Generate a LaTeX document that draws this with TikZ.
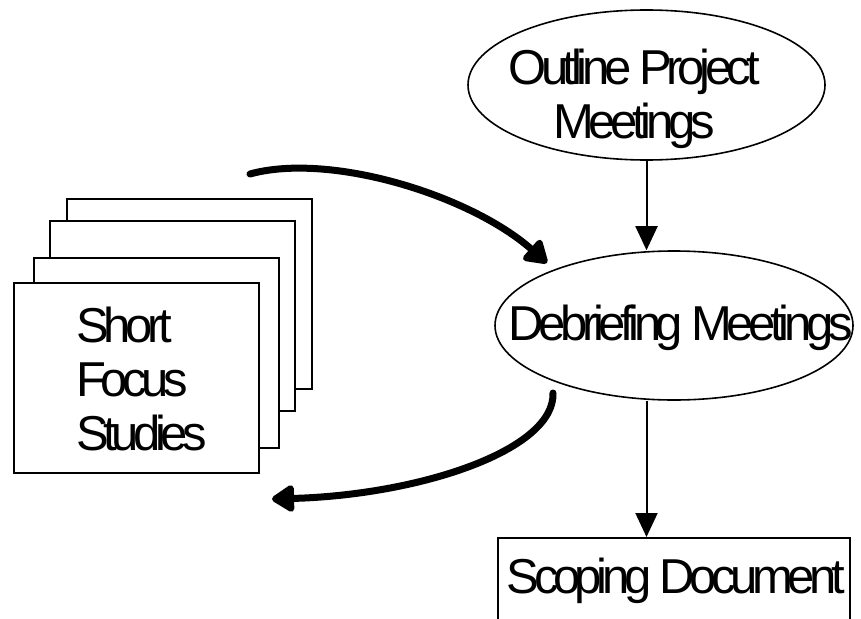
\documentclass[tikz,border=0pt]{standalone}
\usepackage{fontspec}
\setmainfont{Liberation Sans}[LetterSpace=-11]
\usetikzlibrary{arrows.meta,shapes.geometric}
\begin{document}
\begin{tikzpicture}[x=1pt,y=-1pt,
  page/.style={draw, line width=2pt, fill=white, minimum width=245pt, minimum height=190pt, anchor=north west, inner sep=0pt},
  bubble/.style={ellipse, draw, line width=1.6pt, inner sep=0pt},
  docbox/.style={draw, line width=2pt, minimum width=352pt, minimum height=120pt, anchor=north west, inner sep=0pt},
  lbl/.style={font=\fontsize{49}{54}\selectfont, inner sep=0pt},
  thinarrow/.style={line width=2pt, -{Triangle[length=24pt,width=22pt]}},
  thickarrow/.style={line width=7pt, line cap=round, -{Triangle[round,length=25pt,width=30pt]}}
]
\clip (0,0) rectangle (861,618);
% stack of pages
\node[page] (p4) at (66,198) {};
\node[page] (p3) at (49,220) {};
\node[page] (p2) at (33,257) {};
\node[page] (p1) at (13,282) {};
\node[lbl, anchor=base west, align=left] (sfs) at (76,450) {Short\\Focus\\Studies};
% ellipses
\node[bubble, minimum width=357pt, minimum height=150pt] (om) at (646.5,85) {};
\node[lbl, anchor=base, align=center] (omt) at (634,138) {Outline Project\\Meetings};
\node[bubble, minimum width=358pt, minimum height=149pt] (dm) at (674,325.5) {};
\node[lbl, anchor=base] (dmt) at (680.5,340) {Debriefing Meetings};
% scoping document
\node[docbox] (sd) at (497,537) {};
\node[lbl, anchor=base] (sdt) at (676,593) {Scoping Document};
% thin arrows
\draw[thinarrow] (om.south) -- (om.south |- dm.north);
\draw[thinarrow] (dm.south -| om.south) -- (om.south |- sd.north);
% thick curved arrows
\coordinate (a1s) at (250,174);
\coordinate (a1e) at (547,263);
\coordinate (a2s) at (553,393);
\coordinate (a2e) at (272,499);
\draw[thickarrow] (a1s) .. controls (330,152) and (470,195) .. (a1e);
\draw[thickarrow] (a2s) .. controls (555,450) and (420,495) .. (a2e);
\end{tikzpicture}
\end{document}
